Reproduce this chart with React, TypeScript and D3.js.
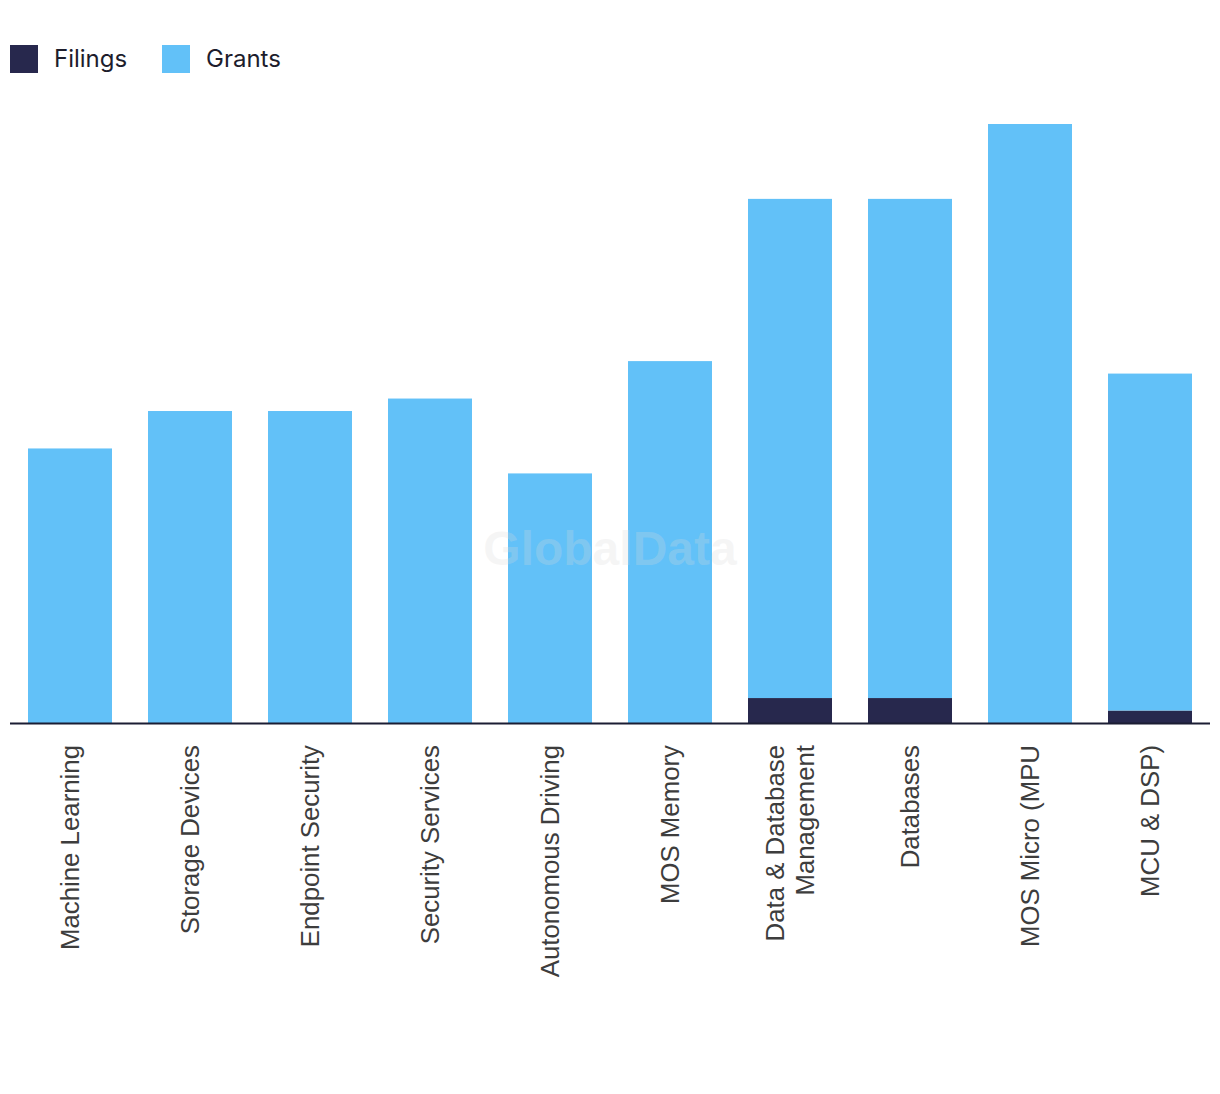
import React from "react";
import * as d3 from "d3";

const categories: string[][] = [
  ["Machine Learning"],
  ["Storage Devices"],
  ["Endpoint Security"],
  ["Security Services"],
  ["Autonomous Driving"],
  ["MOS Memory"],
  ["Data & Database", "Management"],
  ["Databases"],
  ["MOS Micro (MPU"],
  ["MCU & DSP)"],
];
const filings: number[] = [0, 0, 0, 0, 0, 0, 2, 2, 0, 1];
const grants: number[] = [22, 25, 25, 26, 20, 29, 40, 40, 48, 27];
const seriesNames = ["Filings", "Grants"];
const seriesColors = ["#27284d", "#62c1f8"];

const W = 1220;
const H = 1094;

export default function App() {
  const idx = categories.map((_, i) => String(i));
  const x = d3.scaleBand<string>().domain(idx).range([10, 1210]).paddingInner(0.3).paddingOuter(0.15);
  const y = d3.scaleLinear().domain([0, 48]).range([723, 124]);
  const rows = categories.map((c, i) => ({ key: String(i), Filings: filings[i], Grants: grants[i] }));
  const stack = d3.stack<any>().keys(seriesNames)(rows);

  return (
    <svg width={W} height={H} style={{ position: "absolute", left: 0, top: 0, background: "#fff" }}>
      {stack.map((s, si) => (
        <g key={s.key} fill={seriesColors[si]}>
          {s.map((d, i) => (
            d[1] - d[0] > 0 ? (
              <rect key={i} x={x(String(i))} y={y(d[1])} width={x.bandwidth()} height={y(d[0]) - y(d[1])} />
            ) : null
          ))}
        </g>
      ))}
      <text x={610} y={548} textAnchor="middle" dominantBaseline="central" fontFamily="Liberation Sans, Arial, sans-serif" fontWeight="bold" fontSize={48} fill="#d9d9d9" fillOpacity={0.25}>GlobalData</text>
      <line x1={10} x2={1210} y1={723.5} y2={723.5} stroke="#1b1d33" strokeWidth={2} />
      {categories.map((lines, i) => {
        const cx = (x(String(i)) as number) + x.bandwidth() / 2;
        return (
          <text key={i} transform={`translate(${cx},745) rotate(-90)`} textAnchor="end" fontFamily="Liberation Sans, Arial, sans-serif" fontSize={25.8} fill="#3d3d3d">
            {lines.map((l, j) => (
              <tspan key={j} x={0} y={(j - (lines.length - 1) / 2) * 30} dy="0.36em">{l}</tspan>
            ))}
          </text>
        );
      })}
      {seriesNames.map((n, i) => {
        const lx = i === 0 ? 10 : 162;
        return (
          <g key={n}>
            <rect x={lx} y={45} width={28} height={28} fill={seriesColors[i]} />
            <text x={lx + 44} y={58} dominantBaseline="central" fontFamily="Inter, sans-serif" fontSize={24} fill="#1d1d2c">{n}</text>
          </g>
        );
      })}
    </svg>
  );
}
